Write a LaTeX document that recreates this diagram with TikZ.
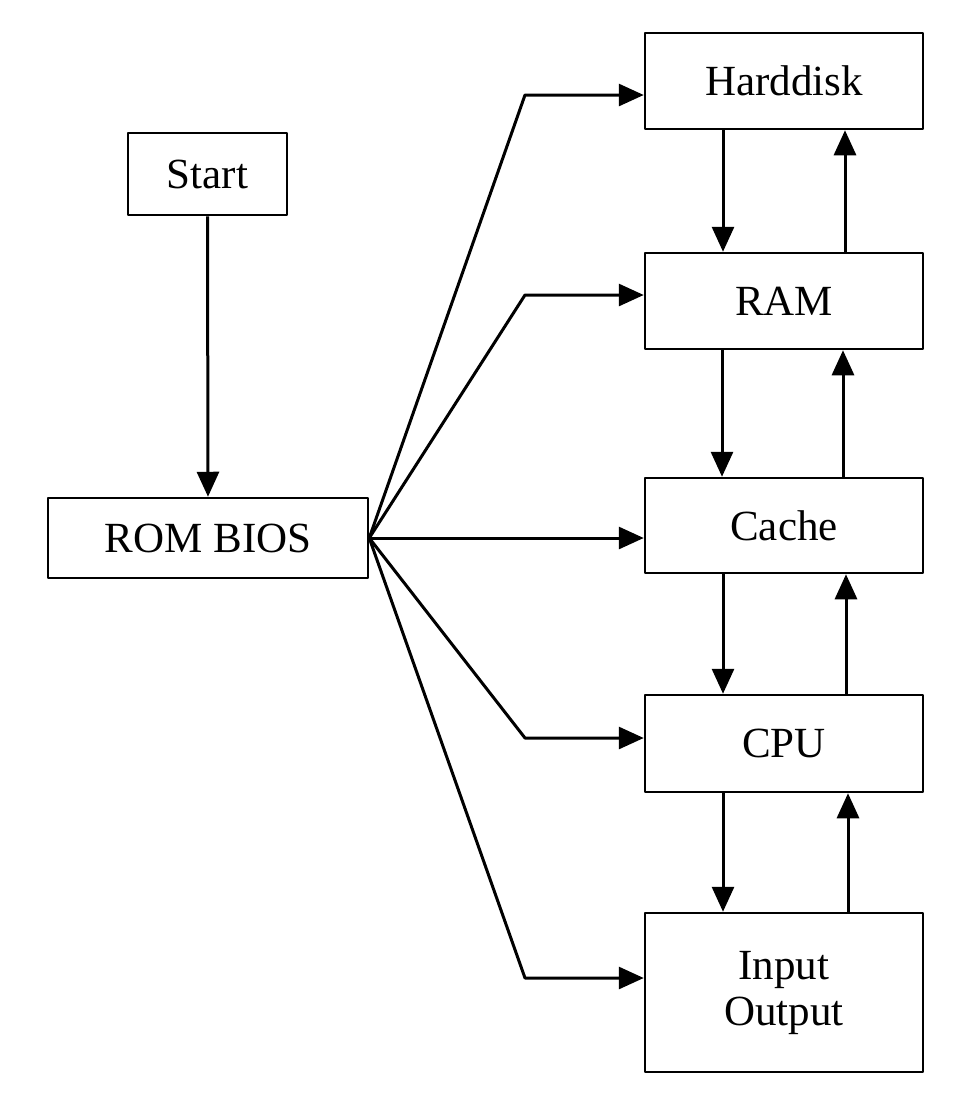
\documentclass[tikz,border=0pt]{standalone}
\usepackage{fontspec}
\setmainfont{Liberation Serif}
\usetikzlibrary{arrows.meta}
\begin{document}
\begin{tikzpicture}[x=1pt,y=-1pt,
  box/.style={draw,line width=2.5pt,inner sep=0pt,align=center,font=\fontsize{43}{46}\selectfont},
  conn/.style={line width=3pt,-{Triangle[length=25pt,width=22pt]}},
  line join=round]
\useasboundingbox (0,0) rectangle (980,1096);
\node[box,minimum width=159pt,minimum height=82pt] (start) at (207.5,174) {Start};
\node[box,minimum width=320pt,minimum height=80pt] (rom) at (208,538) {ROM BIOS};
\node[box,minimum width=278pt,minimum height=96pt] (hd) at (784,81) {Harddisk};
\node[box,minimum width=278pt,minimum height=96pt] (ram) at (784,301) {RAM};
\node[box,minimum width=278pt,minimum height=95pt] (cache) at (784,525.5) {Cache};
\node[box,minimum width=278pt,minimum height=97pt] (cpu) at (784,743.5) {CPU};
\node[box,minimum width=278pt,minimum height=159pt] (io) at (784,992.5) {Input\\Output};
% start to rom
\draw[conn] (start.south) -- (rom.north);
% fan
\coordinate (f) at (rom.east);
\draw[conn] (f) -- (525,95) -- (hd.west |- 0,95);
\draw[conn] (f) -- (525,295) -- (ram.west |- 0,295);
\draw[conn] (f) -- (cache.west |- f);
\draw[conn] (f) -- (525,738) -- (cpu.west |- 0,738);
\draw[conn] (f) -- (525,978) -- (io.west |- 0,978);
% vertical arrows
\draw[conn] (hd.south -| 723,0) -- (ram.north -| 723,0);
\draw[conn] (ram.north -| 845,0) -- (hd.south -| 845,0);
\draw[conn] (ram.south -| 722,0) -- (cache.north -| 722,0);
\draw[conn] (cache.north -| 843,0) -- (ram.south -| 843,0);
\draw[conn] (cache.south -| 723,0) -- (cpu.north -| 723,0);
\draw[conn] (cpu.north -| 846,0) -- (cache.south -| 846,0);
\draw[conn] (cpu.south -| 723,0) -- (io.north -| 723,0);
\draw[conn] (io.north -| 848,0) -- (cpu.south -| 848,0);
\end{tikzpicture}
\end{document}
